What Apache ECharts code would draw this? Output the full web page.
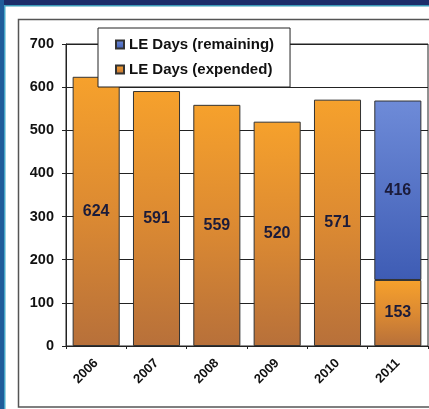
<!DOCTYPE html>
<html>
<head>
<meta charset="utf-8">
<script src="https://cdn.jsdelivr.net/npm/echarts@6/dist/echarts.min.js"></script>
<style>
html,body{margin:0;padding:0;background:#fff;}
#c{width:429px;height:409px;}
</style>
</head>
<body>
<div id="c"></div>
<script>
var categories = ['2006','2007','2008','2009','2010','2011'];
var expended = [624, 591, 559, 520, 571, 153];
var remaining = [null, null, null, null, null, 416];
var yTicks = [0, 100, 200, 300, 400, 500, 600, 700];

var chart = echarts.init(document.getElementById('c'), null, {renderer:'canvas'});
var FONT = '"Liberation Sans", Arial, sans-serif';
var orangeGrad = new echarts.graphic.LinearGradient(0,0,0,1,[
  {offset:0,color:'#f6a12c'},{offset:0.5,color:'#dc8a32'},{offset:1,color:'#b7703a'}]);
var blueGrad = new echarts.graphic.LinearGradient(0,0,0,1,[
  {offset:0,color:'#6e8bd8'},{offset:1,color:'#3e5cb4'}]);

chart.setOption({
  backgroundColor:'#ffffff',
  animation:false,
  graphic:[
    {type:'rect', shape:{x:18.5,y:19.5,width:430,height:387.5}, style:{fill:'none',stroke:'#555',lineWidth:1.5}, z:0},
    {type:'rect', shape:{x:0,y:0,width:429,height:5}, style:{fill:'#1c2d6a'}, z:10},
    {type:'rect', shape:{x:0,y:5,width:429,height:1.5}, style:{fill:'#3a9ab8'}, z:10},
    {type:'rect', shape:{x:0,y:0,width:4,height:409}, style:{fill:'#1f5c9a'}, z:10},
    {type:'rect', shape:{x:4,y:5,width:1.5,height:404}, style:{fill:'#45a6c8'}, z:10}
  ],
  grid:{left:66, top:44, width:362, height:302, show:true, borderColor:'#222', borderWidth:1, backgroundColor:'transparent'},
  legend:{
    left:98, top:28, orient:'vertical',
    backgroundColor:'#fff', borderColor:'#222', borderWidth:1,
    padding:[9,16,10,17], itemGap:10,
    itemWidth:8, itemHeight:8, icon:'rect',
    textStyle:{fontFamily:FONT, fontWeight:'bold', fontSize:15, color:'#111'},
    data:['LE Days (remaining)','LE Days (expended)']
  },
  xAxis:{
    type:'category', data:categories,
    axisLine:{lineStyle:{color:'#222',width:1}},
    axisTick:{show:true, length:3, lineStyle:{color:'#222'}},
    axisLabel:{rotate:45, margin:15, fontFamily:FONT, fontWeight:'bold', fontSize:13, color:'#111'}
  },
  yAxis:{
    type:'value', min:0, max:700, interval:100,
    axisLine:{show:true, lineStyle:{color:'#222',width:1}},
    axisTick:{show:true, length:4, lineStyle:{color:'#222'}},
    splitLine:{show:true, lineStyle:{color:'#222',width:1}},
    axisLabel:{margin:12, fontFamily:FONT, fontWeight:'bold', fontSize:14.5, color:'#111',
      formatter:function(v){ return yTicks.indexOf(v)>=0 ? String(v) : ''; }}
  },
  series:[
    {name:'LE Days (expended)', type:'bar', stack:'a', data:expended, barCategoryGap:'22%',
      itemStyle:{color:orangeGrad, borderColor:'#333', borderWidth:1},
      label:{show:true, position:'inside', fontFamily:FONT, fontWeight:'bold', fontSize:16, color:'#1b1b3a'}},
    {name:'LE Days (remaining)', type:'bar', stack:'a', data:remaining, barCategoryGap:'22%',
      itemStyle:{color:blueGrad, borderColor:'#333', borderWidth:1},
      label:{show:true, position:'inside', fontFamily:FONT, fontWeight:'bold', fontSize:16, color:'#1b1b3a'}}
  ]
});
</script>
</body>
</html>
